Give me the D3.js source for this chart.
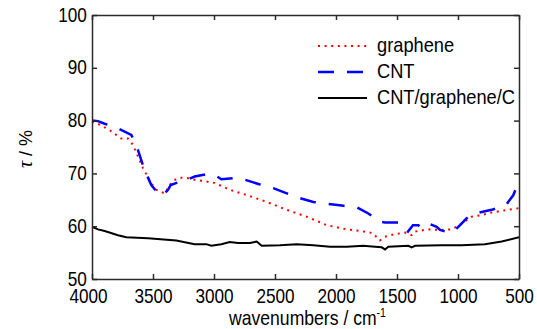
<!DOCTYPE html>
<html lang="en">
<head>
<meta charset="UTF-8">
<title>transmittance</title>
<script src="https://cdn.jsdelivr.net/npm/d3@7"></script>
<style>
    body { margin: 0; background: #fff; }
    svg text { font-family: "Liberation Sans", Arial, sans-serif; fill: #000; }
    .axis path, .axis line { stroke: #2b2b2b; stroke-width: 1.5; }
</style>
</head>
<body>
<svg id="chart" width="537" height="329"></svg>
<script>
    // tick labels
    var xTicks = [4000, 3500, 3000, 2500, 2000, 1500, 1000, 500];
    var yTicks = [50, 60, 70, 80, 90, 100];

    // graphene (red dotted)
    var grapheneWn = [4000, 3951, 3855, 3760, 3705, 3664, 3623, 3582, 3514, 3473, 3404, 3363, 3328, 3281, 3213, 3158, 3104, 2994, 2899, 2844, 2732, 2568, 2404, 2240, 2076, 1912, 1776, 1700, 1640, 1600, 1516, 1434, 1380, 1352, 1243, 1134, 1052, 970, 888, 806, 724, 642, 560, 500];
    var grapheneT = [79.8, 79.4, 78.2, 76.6, 76.6, 75.4, 73.2, 71.0, 68.1, 66.9, 66.2, 67.8, 68.7, 69.2, 69.1, 68.8, 68.6, 68.2, 67.2, 66.7, 65.9, 64.6, 63.1, 61.8, 60.2, 59.4, 59.0, 58.7, 57.3, 58.0, 58.5, 58.8, 58.3, 59.0, 59.4, 59.3, 59.4, 60.5, 61.8, 62.1, 62.6, 62.9, 63.2, 63.4];

    // CNT (blue dashed)
    var cntWn = [4000, 3951, 3896, 3803, 3678, 3637, 3596, 3568, 3514, 3459, 3418, 3377, 3355, 3281, 3213, 3158, 3049, 2994, 2940, 2844, 2787, 2623, 2514, 2391, 2295, 2186, 2063, 1953, 1830, 1735, 1680, 1653, 1598, 1475, 1410, 1369, 1325, 1298, 1229, 1175, 1147, 1079, 1038, 983, 929, 874, 806, 724, 642, 601, 546, 519, 500];
    var cntT = [80.0, 79.9, 79.4, 78.7, 77.3, 75.4, 72.5, 70.6, 67.8, 66.2, 65.9, 66.9, 67.8, 68.4, 68.9, 69.4, 69.9, 69.7, 68.9, 69.1, 69.1, 67.9, 67.2, 66.1, 65.3, 64.6, 64.2, 63.9, 63.6, 62.4, 61.5, 60.9, 60.7, 60.7, 59.0, 60.2, 60.2, 59.6, 60.4, 59.9, 59.3, 58.8, 59.0, 60.2, 61.5, 62.3, 62.7, 63.1, 63.7, 64.2, 65.9, 67.5, 68.4];

    // CNT/graphene/C (black solid)
    var compWn = [4000, 3951, 3896, 3787, 3719, 3541, 3309, 3158, 3063, 3022, 2940, 2871, 2803, 2705, 2650, 2609, 2459, 2322, 2186, 2049, 1912, 1776, 1680, 1625, 1598, 1571, 1407, 1380, 1352, 1134, 970, 779, 642, 500];
    var compT = [59.9, 59.4, 59.1, 58.3, 57.9, 57.7, 57.3, 56.6, 56.6, 56.3, 56.6, 57.0, 56.8, 56.8, 57.1, 56.3, 56.4, 56.6, 56.4, 56.1, 56.1, 56.3, 56.1, 56.0, 55.6, 56.1, 56.3, 56.0, 56.3, 56.4, 56.4, 56.6, 57.1, 57.9];

    var seriesNames = ["graphene", "CNT", "CNT/graphene/C"];

    var series = [
        {name: seriesNames[0], wn: grapheneWn, t: grapheneT, color: "#ff0000", width: 2, dash: "2,4.6"},
        {name: seriesNames[1], wn: cntWn, t: cntT, color: "#0000ff", width: 2.5, dash: "16,13"},
        {name: seriesNames[2], wn: compWn, t: compT, color: "#000000", width: 2, dash: null}
    ];

    var svg = d3.select("svg#chart");
    var plotL = 92, plotR = 519, plotT = 15, plotB = 279;
    var sx = 0.86;   // narrow glyphs like the source

    var x = d3.scaleLinear().domain([4000, 500]).range([plotL, plotR]);
    var y = d3.scaleLinear().domain([50, 100]).range([plotB, plotT]);

    var line = d3.line()
        .x(function (d) { return x(d[0]); })
        .y(function (d) { return y(d[1]); });

    var lines = svg.append("g");
    series.forEach(function (s) {
        var pts = s.wn.map(function (w, i) { return [w, s.t[i]]; });
        lines.append("path")
            .datum(pts)
            .attr("fill", "none")
            .attr("stroke", s.color)
            .attr("stroke-width", s.width)
            .attr("stroke-dasharray", s.dash)
            .attr("d", line);
    });

    // axes (ticks inward on all four sides)
    var gx = svg.append("g").attr("class", "axis")
        .attr("transform", "translate(0," + plotB + ")")
        .call(d3.axisBottom(x).tickValues(xTicks).tickFormat(d3.format("d"))
            .tickSizeInner(-5).tickSizeOuter(0).tickPadding(10));
    var gy = svg.append("g").attr("class", "axis")
        .attr("transform", "translate(" + plotL + ",0)")
        .call(d3.axisLeft(y).tickValues(yTicks).tickFormat(d3.format("d"))
            .tickSizeInner(-5).tickSizeOuter(0).tickPadding(6));
    svg.append("g").attr("class", "axis")
        .attr("transform", "translate(0," + plotT + ")")
        .call(d3.axisTop(x).tickValues(xTicks).tickSizeInner(-5).tickSizeOuter(0).tickFormat(""));
    svg.append("g").attr("class", "axis")
        .attr("transform", "translate(" + plotR + ",0)")
        .call(d3.axisRight(y).tickValues(yTicks).tickSizeInner(-5).tickSizeOuter(0).tickFormat(""));

    gx.selectAll("text")
        .style("font-size", "20px")
        .attr("transform", "scale(" + sx + ",1)");
    // first label sits a little left of its tick in the source
    gx.selectAll("text").filter(function (d) { return d === 4000; })
        .attr("x", -4 / sx);
    gy.selectAll("text")
        .style("font-size", "20px")
        .attr("dy", "0.3em")
        .attr("transform", "scale(" + sx + ",1)");

    // axis titles
    var xt = svg.append("text")
        .attr("transform", "translate(" + ((plotL + plotR) / 2 + 2) + ",325) scale(0.88,1)")
        .attr("text-anchor", "middle")
        .style("font-size", "20px");
    xt.append("tspan").text("wavenumbers / cm");
    xt.append("tspan").attr("dy", -8).style("font-size", "12px").text("-1");

    var yt = svg.append("text")
        .attr("transform", "translate(32,149) rotate(-90)")
        .attr("text-anchor", "middle")
        .style("font-size", "18px");
    yt.append("tspan").style("font-style", "italic").style("font-family", "'Liberation Serif', serif").style("font-size", "20px").text("\u03c4");
    yt.append("tspan").text(" / %");

    // legend
    var legend = svg.append("g");
    series.forEach(function (s, i) {
        var ly = 46 + i * 26;
        legend.append("line")
            .attr("x1", 318).attr("x2", 367)
            .attr("y1", ly).attr("y2", ly)
            .attr("stroke", s.color)
            .attr("stroke-width", s.width)
            .attr("stroke-dasharray", s.dash);
        legend.append("text")
            .attr("transform", "translate(377," + (ly + 6) + ") scale(0.87,1)")
            .style("font-size", "21px")
            .text(s.name);
    });
</script>
</body>
</html>
